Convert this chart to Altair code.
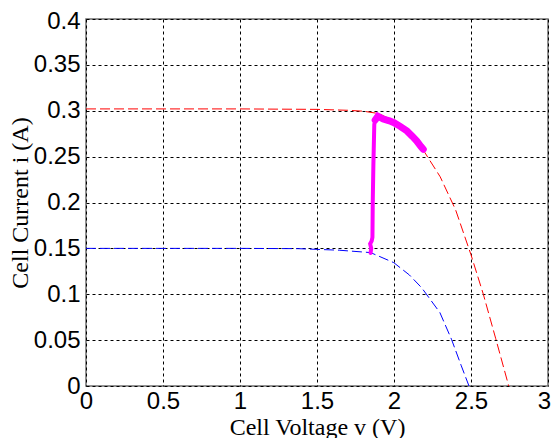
import altair as alt
import pandas as pd

# Red I-V curve (higher irradiance)
red_v = [0.0, 0.5, 1.0, 1.5, 1.7, 1.8, 1.9, 2.0, 2.1, 2.2, 2.3, 2.4, 2.5, 2.58, 2.66, 2.745]
red_i = [0.302, 0.302, 0.302, 0.3015, 0.3005, 0.2995, 0.297, 0.289, 0.276, 0.2545, 0.228, 0.192, 0.143, 0.100, 0.052, 0.0]

# Blue I-V curve (lower irradiance)
blue_v = [0.0, 0.5, 1.0, 1.376, 1.644, 1.848, 1.998, 2.1, 2.18, 2.298, 2.373, 2.437, 2.487]
blue_i = [0.150, 0.150, 0.150, 0.1497, 0.148, 0.1454, 0.1345, 0.121, 0.107, 0.080, 0.051, 0.022, 0.0]

# Magenta operating-point trajectory
mag_v = [1.848, 1.852, 1.845, 1.855, 1.86, 1.862, 1.866, 1.872, 1.878, 1.895, 1.93, 1.97, 2.0, 2.04, 2.084, 2.12, 2.148, 2.175, 2.19]
mag_i = [0.145, 0.150, 0.155, 0.158, 0.162, 0.20, 0.24, 0.285, 0.290, 0.294, 0.291, 0.289, 0.287, 0.283, 0.278, 0.272, 0.267, 0.261, 0.258]

x_ticks = [0, 0.5, 1, 1.5, 2, 2.5, 3]
y_ticks = [0, 0.05, 0.1, 0.15, 0.2, 0.25, 0.3, 0.35, 0.4]

red_df = pd.DataFrame({"v": red_v, "i": red_i, "o": range(len(red_v))})
blue_df = pd.DataFrame({"v": blue_v, "i": blue_i, "o": range(len(blue_v))})
mag_df = pd.DataFrame({"v": mag_v, "i": mag_i, "o": range(len(mag_v))})
vert_df = mag_df[mag_df["o"] <= 9]
curve_df = mag_df[mag_df["o"] >= 8]

xs = alt.Scale(domain=[0, 3], nice=False, zero=False)
ys = alt.Scale(domain=[0, 0.4], nice=False, zero=False)

x_axis = alt.Axis(
    values=x_ticks, title="Cell Voltage v (V)", grid=True, labelFlush=False,
    labelExpr="format(datum.value, '')",
    labelOffset={"condition": {"test": "datum.value == 3", "value": -4}, "value": 0},
)
y_axis = alt.Axis(
    values=y_ticks, title="Cell Current i (A)", grid=True, labelFlush=False,
    labelExpr="format(datum.value, '')",
    labelOffset={"condition": {"test": "datum.value == 0.4", "value": 2}, "value": 0},
)

def enc(df):
    return dict(
        x=alt.X("v:Q", scale=xs, axis=x_axis),
        y=alt.Y("i:Q", scale=ys, axis=y_axis),
        order="o:Q",
    )

red = alt.Chart(red_df).mark_line(color="#ff0000", strokeWidth=1, strokeDash=[10, 4]).encode(**enc(red_df))
blue = alt.Chart(blue_df).mark_line(color="#0000ff", strokeWidth=1, strokeDash=[10, 4]).encode(**enc(blue_df))
mag1 = alt.Chart(vert_df).mark_line(color="#ff00ff", strokeWidth=4, strokeCap="round").encode(**enc(vert_df))
mag2 = alt.Chart(curve_df).mark_line(color="#ff00ff", strokeWidth=7, strokeCap="round").encode(**enc(curve_df))

chart = alt.layer(red, blue, mag1, mag2).properties(
    width=462, height=367,
    autosize=alt.AutoSizeParams(type="none"),
    padding={"left": 78, "top": 11, "right": 3, "bottom": 52},
).configure_view(
    stroke="#6e6e6e", strokeWidth=1.5
).configure_axis(
    gridColor="#000000", gridDash=[3, 3], gridOpacity=1, gridWidth=1,
    domain=False, ticks=False,
    labelFont="Liberation Sans", labelFontSize=24, labelColor="#000000",
    titleFont="Liberation Serif", titleFontSize=24, titleFontWeight="normal", titleColor="#000000",
).configure_axisX(
    labelPadding=3, titlePadding=2
).configure_axisY(
    labelPadding=6, titlePadding=1
)

chart.save("out.html", embed_options={"renderer": "svg", "actions": False})
